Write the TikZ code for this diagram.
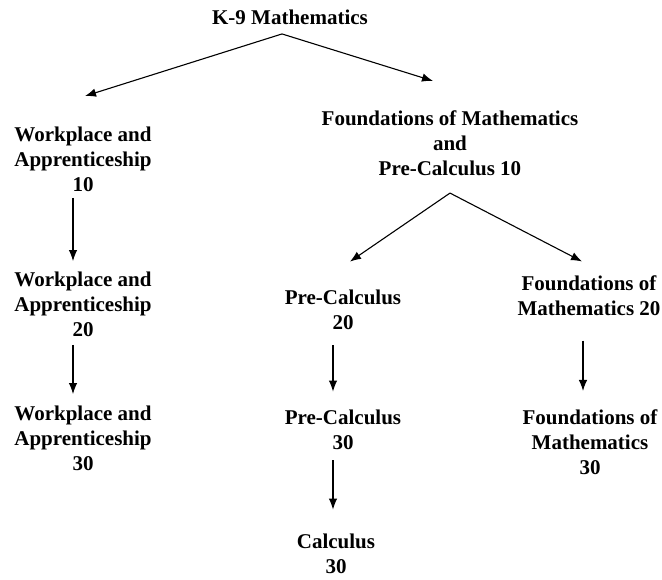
\documentclass[tikz,border=0pt]{standalone}
\usepackage{fontspec}
\setmainfont{Liberation Serif}
\usetikzlibrary{arrows.meta}
\tikzset{
  course/.style={inner sep=0pt,align=center,font=\bfseries\fontsize{21}{25}\selectfont},
}
\begin{document}
\begin{tikzpicture}[x=1pt,y=-1pt,>={Latex[length=11pt,width=8.5pt]},line width=1.1pt]
\useasboundingbox (0,0) rectangle (662,579);
\node[course] (k9) at (290,17) {K-9 Mathematics};
\node[course] (wa10) at (83,159) {Workplace and\\Apprenticeship\\10};
\node[course] (fp10) at (450,143) {Foundations of Mathematics\\and\\Pre-Calculus 10};
\node[course] (wa20) at (83,304) {Workplace and\\Apprenticeship\\20};
\node[course] (pc20) at (343,310) {Pre-Calculus\\20};
\node[course] (fm20) at (589,296) {Foundations of\\Mathematics 20};
\node[course] (wa30) at (83,438) {Workplace and\\Apprenticeship\\30};
\node[course] (pc30) at (343,430) {Pre-Calculus\\30};
\node[course] (fm30) at (590,442) {Foundations of\\Mathematics\\30};
\node[course] (calc) at (336,554) {Calculus\\30};
% from K-9
\draw[->] ([xshift=-8pt,yshift=-9pt]k9.south) -- ([xshift=2pt,yshift=30pt]wa10.north);
\draw[->] ([xshift=-8pt,yshift=-9pt]k9.south) -- ([xshift=-17pt,yshift=29pt]fp10.north);
% workplace stream
\draw[->] ([xshift=-10pt,yshift=-6pt]wa10.south) -- ([xshift=-10pt,yshift=10pt]wa20.north);
\draw[->] ([xshift=-10pt,yshift=-8pt]wa20.south) -- ([xshift=-10pt,yshift=11pt]wa30.north);
% foundations / pre-calculus streams
\draw[->] ([yshift=-17pt]fp10.south) -- ([xshift=7pt,yshift=28pt]pc20.north);
\draw[->] ([yshift=-17pt]fp10.south) -- ([xshift=-7pt,yshift=14pt]fm20.north);
\draw[->] ([xshift=-10pt,yshift=-15pt]pc20.south) -- ([xshift=-10pt,yshift=18pt]pc30.north);
\draw[->] ([xshift=-10pt,yshift=-10pt]pc30.south) -- ([xshift=-3pt,yshift=24pt]calc.north);
\draw[->] ([xshift=-6pt,yshift=-24pt]fm20.south) -- ([xshift=-7pt,yshift=18pt]fm30.north);
\end{tikzpicture}
\end{document}
